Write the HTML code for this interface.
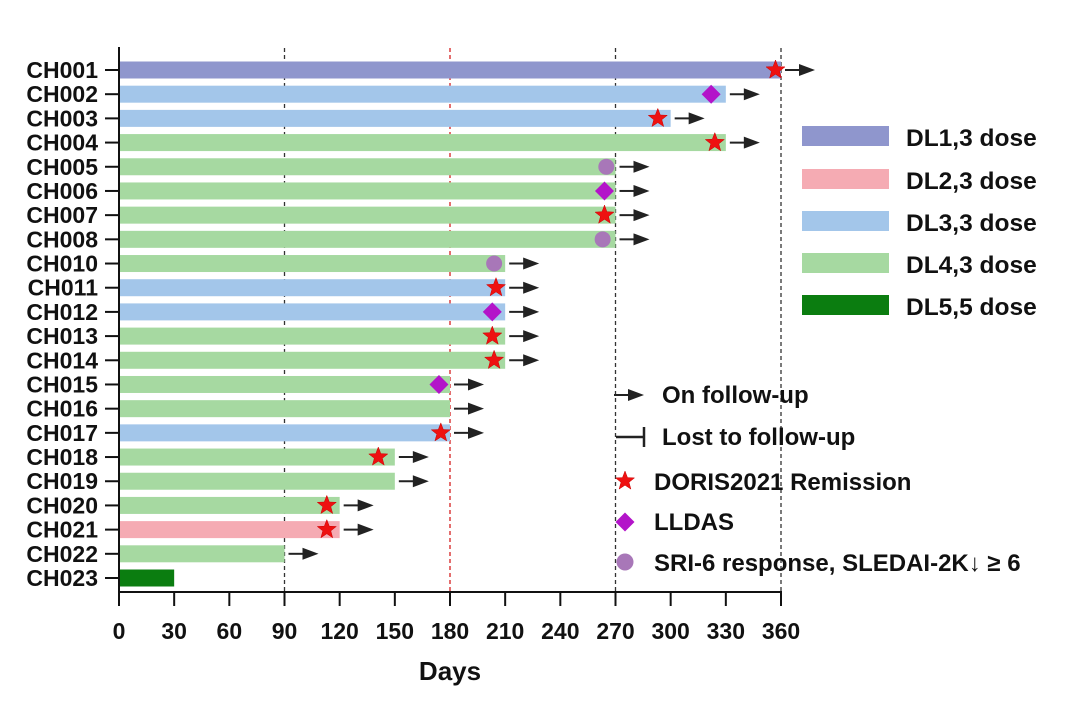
<!DOCTYPE html>
<html><head><meta charset="utf-8"><style>
body{margin:0;background:#fff;}
svg{display:block;font-family:"Liberation Sans",Arial,sans-serif;font-weight:bold;}
</style></head><body>
<svg id="chart" width="1080" height="715" viewBox="0 0 1080 715" xmlns="http://www.w3.org/2000/svg">
<g id="grid"></g><g id="bars"></g><g id="axes"></g><g id="legend"></g>
</svg>
<script>
const patients=["CH001","CH002","CH003","CH004","CH005","CH006","CH007","CH008","CH010","CH011","CH012","CH013","CH014","CH015","CH016","CH017","CH018","CH019","CH020","CH021","CH022","CH023"];
const durations=[360,330,300,330,270,270,270,270,210,210,210,210,210,180,180,180,150,150,120,120,90,30];
const groups=[1,3,3,4,4,4,4,4,4,3,3,4,4,4,4,3,4,4,4,2,4,5];
const markerType=["star","diamond","star","star","circle","diamond","star","circle","circle","star","diamond","star","star","diamond","","star","star","","star","star","",""];
const markerDay=[357,322,293,324,265,264,264,263,204,205,203,203,204,174,0,175,141,0,113,113,0,0];
const onFollow=[1,1,1,1,1,1,1,1,1,1,1,1,1,1,1,1,1,1,1,1,1,0];
const xTicks=[0,30,60,90,120,150,180,210,240,270,300,330,360];
const refLines=[90,180,270,360];
const groupLabels=["DL1,3 dose","DL2,3 dose","DL3,3 dose","DL4,3 dose","DL5,5 dose"];
const groupColors=["#8f96cd","#f5abb3","#a3c6ea","#a6d9a1","#0b7d10"];

const NS="http://www.w3.org/2000/svg";
const x=d=>119+d*662/360;
const y=i=>70+i*(578-70)/21;
function mk(tag,attrs,parent){const e=document.createElementNS(NS,tag);for(const k in attrs)e.setAttribute(k,attrs[k]);parent.appendChild(e);return e;}
const G=id=>document.getElementById(id);
function star(cx,cy,r,parent){let p=[];for(let k=0;k<10;k++){const a=-Math.PI/2+k*Math.PI/5;const rr=k%2?r*0.42:r;p.push((cx+rr*Math.cos(a)).toFixed(1)+","+(cy+rr*Math.sin(a)).toFixed(1));}return mk("polygon",{points:p.join(" "),fill:"#ee1111",stroke:"#c00",["stroke-width"]:0.5},parent);}
function diamond(cx,cy,r,parent){return mk("polygon",{points:`${cx},${cy-r} ${cx+r},${cy} ${cx},${cy+r} ${cx-r},${cy}`,fill:"#b314c9"},parent);}
function circ(cx,cy,r,parent){return mk("circle",{cx:cx,cy:cy,r:r,fill:"#a877b8"},parent);}
function arrow(x0,cy,parent){const g=mk("g",{},parent);mk("line",{x1:x0,y1:cy,x2:x0+16,y2:cy,stroke:"#222",["stroke-width"]:2},g);mk("polygon",{points:`${x0+14},${cy-6} ${x0+30},${cy} ${x0+14},${cy+6}`,fill:"#222"},g);return g;}

refLines.forEach(d=>{const l=mk("line",{x1:x(d),x2:x(d),y1:48,y2:592,stroke:d===180?"#d62020":"#333",["stroke-width"]:1.3,["stroke-dasharray"]:"4,3"},G("grid"));

});

patients.forEach((p,i)=>{
 const cy=y(i);
 const b=mk("rect",{x:x(0),y:cy-8.5,width:x(durations[i])-x(0),height:17,fill:groupColors[groups[i]-1]},G("bars"));
 
 
 let m=null;const mx=x(markerDay[i]);
 if(markerType[i]==="star")m=star(mx,cy,10,G("bars"));
 else if(markerType[i]==="diamond")m=diamond(mx,cy,9.5,G("bars"));
 else if(markerType[i]==="circle")m=circ(mx,cy,8,G("bars"));
 if(m){
 }
 if(onFollow[i]){const a=arrow(x(durations[i])+4,cy,G("bars"));
 
 }
 mk("line",{x1:105,x2:119,y1:cy,y2:cy,stroke:"#111",["stroke-width"]:2},G("axes"));
 const t=mk("text",{x:98,y:cy+8,["text-anchor"]:"end",["font-size"]:23,fill:"#111"},G("axes"));t.textContent=p;
 
 
});
mk("line",{x1:119,y1:47,x2:119,y2:592,stroke:"#111",["stroke-width"]:2},G("axes"));
mk("line",{x1:118,y1:592,x2:x(360)+1,y2:592,stroke:"#111",["stroke-width"]:2},G("axes"));
xTicks.forEach(d=>{mk("line",{x1:x(d),x2:x(d),y1:592,y2:606,stroke:"#111",["stroke-width"]:2},G("axes"));
 const t=mk("text",{x:x(d),y:639,["text-anchor"]:"middle",["font-size"]:23,fill:"#111"},G("axes"));t.textContent=d;
 
 });
const xt=mk("text",{x:450,y:680,["text-anchor"]:"middle",["font-size"]:26,fill:"#111"},G("axes"));xt.textContent="Days";



const legY=[136,179,221,263,305];
groupLabels.forEach((lab,k)=>{mk("rect",{x:802,y:legY[k]-10,width:87,height:20,fill:groupColors[k]},G("legend"));
 const t=mk("text",{x:906,y:legY[k]+10,["font-size"]:24.5,fill:"#111"},G("legend"));t.textContent=lab;
 
 });
arrow(614,395,G("legend"));
mk("line",{x1:616,y1:437,x2:644,y2:437,stroke:"#222",["stroke-width"]:2.5},G("legend"));
mk("line",{x1:644,y1:427,x2:644,y2:447,stroke:"#222",["stroke-width"]:2.5},G("legend"));
star(625,481,10,G("legend"));diamond(625,522,9.5,G("legend"));circ(625,562,8.5,G("legend"));
[["On follow-up",662,403],["Lost to follow-up",662,445],["DORIS2021 Remission",654,490],["LLDAS",654,530],["SRI-6 response, SLEDAI-2K\u2193 \u2265 6",654,571]].forEach((r,k)=>{
 const t=mk("text",{x:r[1],y:r[2],["font-size"]:24,fill:"#111"},G("legend"));t.textContent=r[0];
 
 });
</script>
</body></html>
